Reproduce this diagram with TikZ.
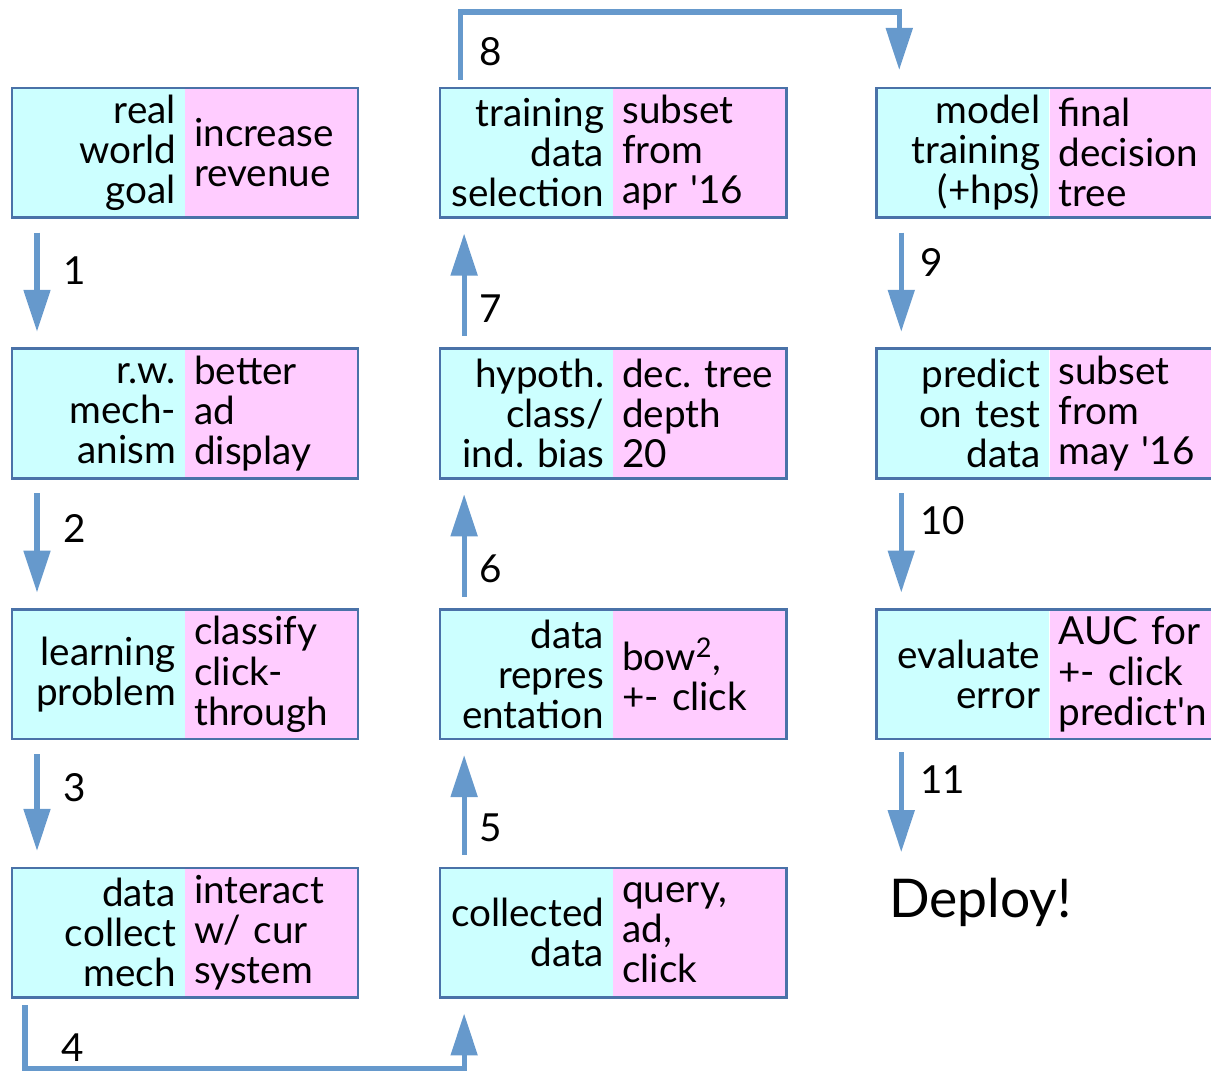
\documentclass[tikz,border=0pt]{standalone}
\usepackage{fontspec}
\setmainfont{Lato}
\frenchspacing
\usetikzlibrary{arrows.meta,positioning}
\definecolor{stagecyan}{HTML}{CCFFFF}
\definecolor{stagepink}{HTML}{FFCCFF}
\definecolor{stageline}{HTML}{4A72A8}
\definecolor{flowblue}{HTML}{6699CC}
\tikzstyle{half} = [minimum width=4.3125cm, minimum height=3.225cm, text width=3.87cm, inner xsep=0.22cm, inner ysep=0pt, font=\fontsize{27.5pt}{28.5pt}\selectfont]
\tikzstyle{what} = [half, fill=stagecyan, align=right]
\tikzstyle{how} = [half, fill=stagepink, align=left]
\tikzstyle{frame} = [draw=stageline, line width=1.8pt]
\tikzstyle{flow} = [draw=flowblue, line width=3.6pt, -{Triangle[length=1.05cm,width=0.65cm]}]
\tikzstyle{num} = [anchor=west, font=\fontsize{27.5pt}{28.5pt}\selectfont]

\begin{document}
\begin{tikzpicture}
\useasboundingbox (0,0) rectangle (30.275,-26.825);

% first column: problem side
\node (goalL) [what, anchor=north west] at (0.3,-2.2) {real\\world\\goal};
\node (goalR) [how, right=0pt of goalL] {increase\\revenue};
\node (mechL) [what, below=3.28cm of goalL] {r.w.\\mech-\\anism};
\node (mechR) [how, right=0pt of mechL] {better\\ad\\display};
\node (probL) [what, below=3.28cm of mechL] {learning\\problem};
\node (probR) [how, right=0pt of probL] {classify\\click-\\through};
\node (dataL) [what, below=3.22cm of probL] {data\\collect\\mech};
\node (dataR) [how, right=0pt of dataL] {interact\\w/ cur\\system};

% second column: data side, going up
\node (selL) [what, right=2.05cm of goalR] {training\\data\\selection};
\node (selR) [how, right=0pt of selL] {subset\\from\\apr \textquotesingle16};
\node (hypL) [what, below=3.28cm of selL] {hypoth.\\class/\\ind. bias};
\node (hypR) [how, right=0pt of hypL] {dec. tree\\depth\\20};
\node (repL) [what, below=3.28cm of hypL] {data\\repres\\entation};
\node (repR) [how, right=0pt of repL] {bow\textsuperscript{2},\\+- click};
\node (collL) [what, below=3.22cm of repL] {collected\\data};
\node (collR) [how, right=0pt of collL] {query,\\ad,\\click};

% third column: model side
\node (modelL) [what, right=2.25cm of selR] {model\\training\\(+hps)};
\node (modelR) [how, right=0pt of modelL] {final\\decision\\tree};
\node (predL) [what, below=3.28cm of modelL] {predict\\on test\\data};
\node (predR) [how, right=0pt of predL] {subset\\from\\may \textquotesingle16};
\node (evalL) [what, below=3.28cm of predL] {evaluate\\error};
\node (evalR) [how, right=0pt of evalL] {AUC for\\+- click\\predict\textquotesingle n};

\node (deploy) [anchor=base west, xshift=0.2cm, font=\fontsize{38pt}{40pt}\selectfont] at ([yshift=-4.45cm]evalL.south west) {Deploy!};

% frames round each pair
\draw [frame] (goalL.north west) rectangle (goalR.south east);
\draw [frame] (mechL.north west) rectangle (mechR.south east);
\draw [frame] (probL.north west) rectangle (probR.south east);
\draw [frame] (dataL.north west) rectangle (dataR.south east);
\draw [frame] (selL.north west) rectangle (selR.south east);
\draw [frame] (hypL.north west) rectangle (hypR.south east);
\draw [frame] (repL.north west) rectangle (repR.south east);
\draw [frame] (collL.north west) rectangle (collR.south east);
\draw [frame] (modelL.north west) rectangle (modelR.south east);
\draw [frame] (predL.north west) rectangle (predR.south east);
\draw [frame] (evalL.north west) rectangle (evalR.south east);

% steps
\draw [flow] ([shift={(0.625,-0.375)}]goalL.south west) -- node[num, pos=0.38, xshift=0.475cm] {1} ([shift={(0.625,0.425)}]mechL.north west);
\draw [flow] ([shift={(0.625,-0.375)}]mechL.south west) -- node[num, pos=0.35, xshift=0.475cm] {2} ([shift={(0.625,0.425)}]probL.north west);
\draw [flow] ([shift={(0.625,-0.375)}]probL.south west) -- node[num, pos=0.35, xshift=0.475cm] {3} ([shift={(0.625,0.425)}]dataL.north west);
\draw [flow] ([shift={(0.325,-0.2)}]dataL.south west) -- node[num, pos=0.67, xshift=0.72cm] {4} ++(0,-1.575) -| ([shift={(0.6,-0.4)}]collL.south west);
\draw [flow] ([shift={(0.6,0.325)}]collL.north west) -- node[num, pos=0.27, xshift=0.2cm] {5} ([shift={(0.6,-0.4)}]repL.south west);
\draw [flow] ([shift={(0.6,0.325)}]repL.north west) -- node[num, pos=0.27, xshift=0.2cm] {6} ([shift={(0.6,-0.4)}]hypL.south west);
\draw [flow] ([shift={(0.6,0.325)}]hypL.north west) -- node[num, pos=0.27, xshift=0.2cm] {7} ([shift={(0.6,-0.4)}]selL.south west);
\draw [flow] ([shift={(0.5,0.2)}]selL.north west) -- node[num, pos=0.41, xshift=0.3cm] {8} ++(0,1.7) -| ([shift={(0.575,0.45)}]modelL.north west);
\draw [flow] ([shift={(0.625,-0.375)}]modelL.south west) -- node[num, pos=0.3, xshift=0.3cm] {9} ([shift={(0.625,0.425)}]predL.north west);
\draw [flow] ([shift={(0.625,-0.375)}]predL.south west) -- node[num, pos=0.28, xshift=0.3cm] {10} ([shift={(0.625,0.425)}]evalL.north west);
\draw [flow] ([shift={(0.625,-0.325)}]evalL.south west) -- node[num, pos=0.28, xshift=0.3cm] {11} ++(0,-2.5);
\end{tikzpicture}
\end{document}
